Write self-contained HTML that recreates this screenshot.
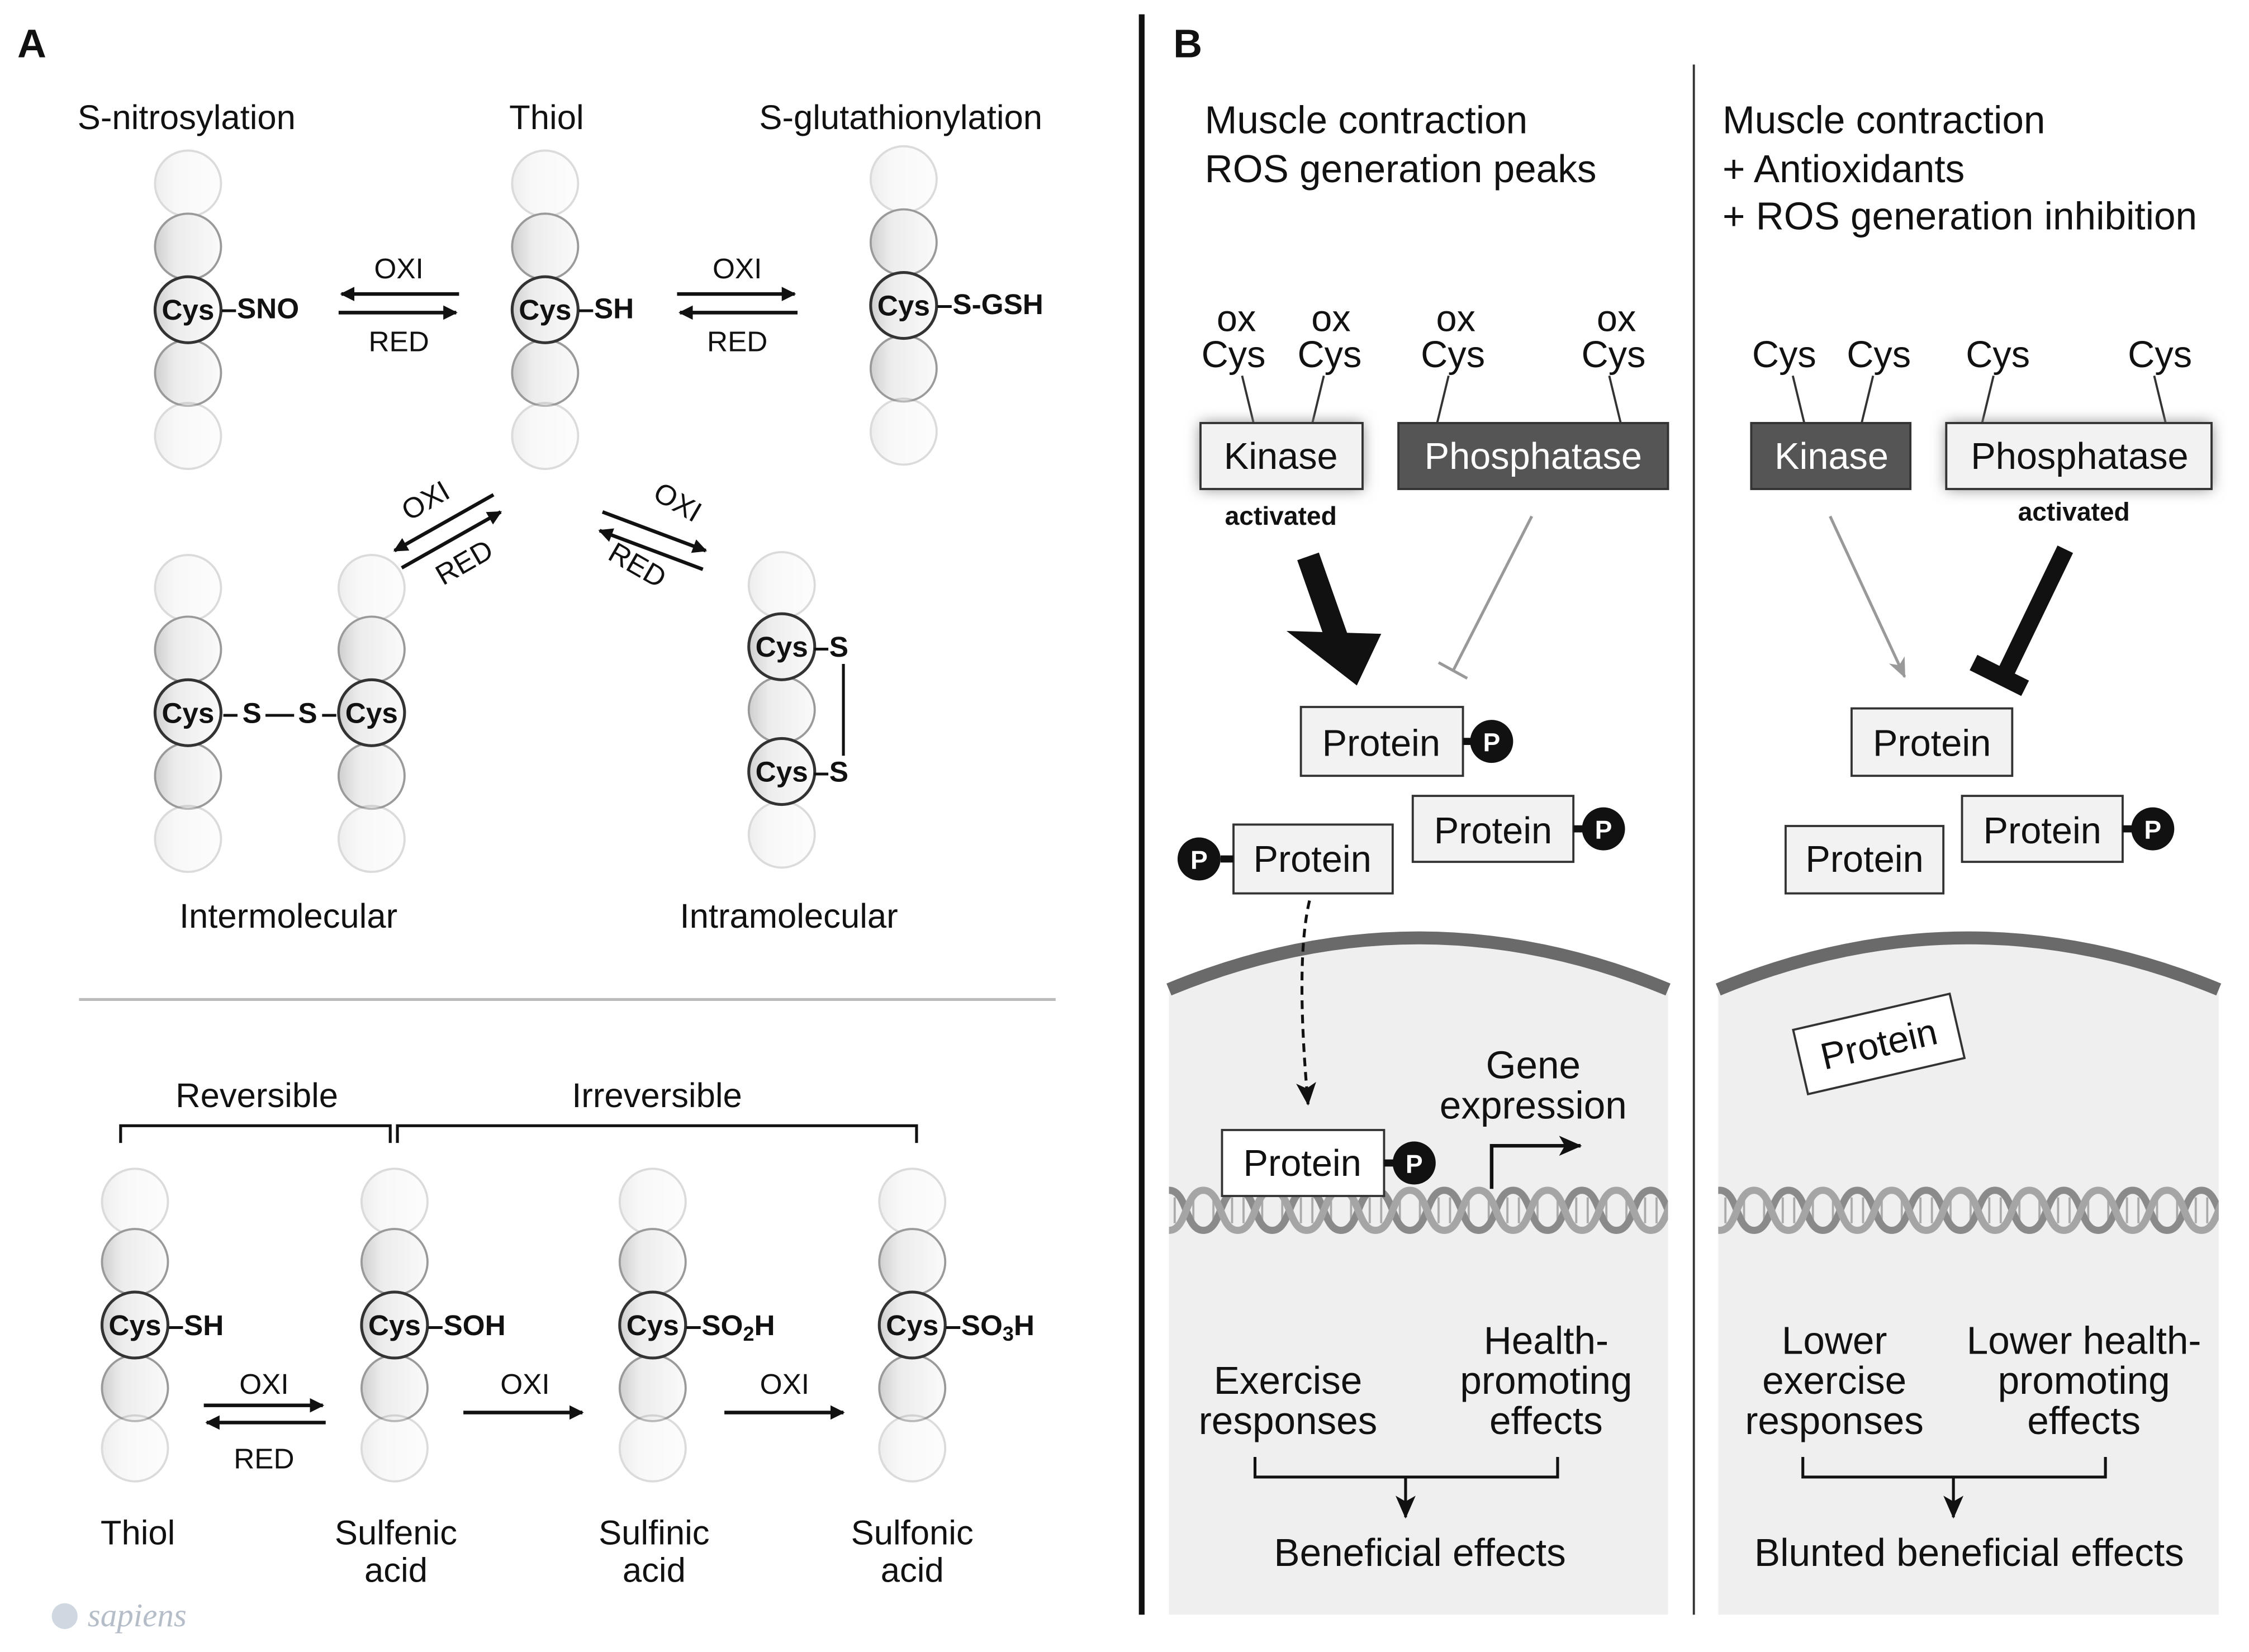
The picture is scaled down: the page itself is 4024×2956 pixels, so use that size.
<!DOCTYPE html>
<html><head><meta charset="utf-8"><style>
html,body{margin:0;padding:0;background:#fff;}
svg{display:block;}
text{font-family:"Liberation Sans",Arial,sans-serif;fill:#111;}
</style></head><body>
<svg width="4024" height="2956" viewBox="0 0 1568 1152" xmlns="http://www.w3.org/2000/svg">
<defs>
<linearGradient id="g" x1="0" x2="1" y1="0" y2="0">
<stop offset="0" stop-color="#cfcfcf"/><stop offset="0.3" stop-color="#ececec"/><stop offset="1" stop-color="#fafafa"/>
</linearGradient>
<g id="b"><circle r="23" fill="url(#g)" stroke="#9a9a9a" stroke-width="1.5"/></g>
<g id="bf" opacity="0.35"><circle r="23" fill="url(#g)" stroke="#9a9a9a" stroke-width="1.5"/></g>
<g id="bc"><circle r="23" fill="url(#g)" stroke="#333" stroke-width="2"/></g>
<marker id="ah" markerWidth="10" markerHeight="10" refX="9" refY="5" orient="auto" markerUnits="userSpaceOnUse"><path d="M0,0 L10,5 L0,10 Z" fill="#111"/></marker>
<marker id="ahb" markerWidth="16" markerHeight="14" refX="15" refY="7" orient="auto" markerUnits="userSpaceOnUse"><path d="M0,0 L16,7 L0,14 L4,7 Z" fill="#111"/></marker>
<marker id="ahg" markerWidth="14" markerHeight="12" refX="13" refY="6" orient="auto" markerUnits="userSpaceOnUse"><path d="M0,0 L14,6 L0,12 L4,6 Z" fill="#999"/></marker>
<pattern id="dna" x="815" y="825" width="48" height="38" patternUnits="userSpaceOnUse">
<g stroke="#aaa" stroke-width="1.5">
<line x1="4" y1="10" x2="4" y2="28"/><line x1="10" y1="12" x2="10" y2="26"/><line x1="38" y1="12" x2="38" y2="26"/><line x1="44" y1="10" x2="44" y2="28"/>
<line x1="17" y1="9" x2="17" y2="29"/><line x1="31" y1="9" x2="31" y2="29"/>
</g>
<path d="M0,5 C13,5 11,33 24,33 C37,33 35,5 48,5" fill="none" stroke="#8a8a8a" stroke-width="5"/>
<path d="M0,33 C13,33 11,5 24,5 C37,5 35,33 48,33" fill="none" stroke="#a5a5a5" stroke-width="5"/>
</pattern>
<filter id="glow" x="-30%" y="-50%" width="160%" height="200%"><feGaussianBlur stdDeviation="5"/></filter>
</defs>

<!-- PANEL A -->
<text x="12" y="40" font-size="28" font-weight="bold">A</text>
<g font-size="24" text-anchor="middle">
<text x="130" y="90">S-nitrosylation</text>
<text x="381" y="90">Thiol</text>
<text x="628" y="90">S-glutathionylation</text>
</g>

<use href="#bf" x="131" y="128"/><use href="#b" x="131" y="172"/><use href="#b" x="131" y="260"/><use href="#bf" x="131" y="304"/><use href="#bc" x="131" y="216"/>
<use href="#bf" x="380" y="128"/><use href="#b" x="380" y="172"/><use href="#b" x="380" y="260"/><use href="#bf" x="380" y="304"/><use href="#bc" x="380" y="216"/>
<use href="#bf" x="630" y="125"/><use href="#b" x="630" y="169"/><use href="#b" x="630" y="257"/><use href="#bf" x="630" y="301"/><use href="#bc" x="630" y="213"/>
<g font-size="20" font-weight="bold" text-anchor="middle">
<text x="131" y="223">Cys</text><text x="380" y="223">Cys</text><text x="630" y="220">Cys</text>
</g>
<g font-size="20" font-weight="bold">
<text x="154" y="222">–SNO</text><text x="403" y="222">–SH</text><text x="653" y="219">–S-GSH</text>
</g>

<g stroke="#111" stroke-width="2.5">
<line x1="320" y1="205" x2="238" y2="205" marker-end="url(#ah)"/>
<line x1="236" y1="218" x2="318" y2="218" marker-end="url(#ah)"/>
<line x1="472" y1="205" x2="554" y2="205" marker-end="url(#ah)"/>
<line x1="556" y1="218" x2="474" y2="218" marker-end="url(#ah)"/>
</g>
<g font-size="20" text-anchor="middle">
<text x="278" y="194">OXI</text><text x="278" y="245">RED</text>
<text x="514" y="194">OXI</text><text x="514" y="245">RED</text>
</g>
<g stroke="#111" stroke-width="2.5">
<line x1="344" y1="345" x2="275" y2="384" marker-end="url(#ah)"/>
<line x1="280" y1="396" x2="349" y2="357" marker-end="url(#ah)"/>
<line x1="420" y1="357" x2="492" y2="384" marker-end="url(#ah)"/>
<line x1="490" y1="397" x2="418" y2="370" marker-end="url(#ah)"/>
</g>
<g font-size="20" text-anchor="middle">
<text x="300" y="355" transform="rotate(-30 300 355)">OXI</text>
<text x="327" y="398" transform="rotate(-30 327 398)">RED</text>
<text x="469" y="356" transform="rotate(30 469 356)">OXI</text>
<text x="441" y="400" transform="rotate(30 441 400)">RED</text>
</g>

<use href="#bf" x="131" y="410"/><use href="#b" x="131" y="453"/><use href="#b" x="131" y="541"/><use href="#bf" x="131" y="585"/><use href="#bc" x="131" y="497"/>
<use href="#bf" x="259" y="410"/><use href="#b" x="259" y="453"/><use href="#b" x="259" y="541"/><use href="#bf" x="259" y="585"/><use href="#bc" x="259" y="497"/>
<use href="#bf" x="545" y="408"/><use href="#b" x="545" y="495"/><use href="#bf" x="545" y="582"/><use href="#bc" x="545" y="451"/><use href="#bc" x="545" y="538"/>
<g font-size="20" font-weight="bold" text-anchor="middle">
<text x="131" y="504">Cys</text><text x="259" y="504">Cys</text><text x="545" y="458">Cys</text><text x="545" y="545">Cys</text>
</g>
<g font-size="20" font-weight="bold">
<text x="155" y="504" textLength="80" lengthAdjust="spacing">–S—S–</text>
<text x="567" y="458">–S</text><text x="567" y="545">–S</text>
</g>
<line x1="588" y1="463" x2="588" y2="527" stroke="#111" stroke-width="2"/>
<g font-size="24" text-anchor="middle">
<text x="201" y="647">Intermolecular</text>
<text x="550" y="647">Intramolecular</text>
</g>
<line x1="55" y1="697" x2="736" y2="697" stroke="#bbb" stroke-width="2"/>

<g font-size="24" text-anchor="middle">
<text x="179" y="772">Reversible</text><text x="458" y="772">Irreversible</text>
</g>
<g fill="none" stroke="#111" stroke-width="2">
<path d="M84,797 V785 H272 V797"/>
<path d="M277,797 V785 H639 V797"/>
</g>
<use href="#bf" x="94" y="838"/><use href="#b" x="94" y="880"/><use href="#b" x="94" y="968"/><use href="#bf" x="94" y="1010"/><use href="#bc" x="94" y="924"/>
<use href="#bf" x="275" y="838"/><use href="#b" x="275" y="880"/><use href="#b" x="275" y="968"/><use href="#bf" x="275" y="1010"/><use href="#bc" x="275" y="924"/>
<use href="#bf" x="455" y="838"/><use href="#b" x="455" y="880"/><use href="#b" x="455" y="968"/><use href="#bf" x="455" y="1010"/><use href="#bc" x="455" y="924"/>
<use href="#bf" x="636" y="838"/><use href="#b" x="636" y="880"/><use href="#b" x="636" y="968"/><use href="#bf" x="636" y="1010"/><use href="#bc" x="636" y="924"/>
<g font-size="20" font-weight="bold" text-anchor="middle">
<text x="94" y="931">Cys</text><text x="275" y="931">Cys</text><text x="455" y="931">Cys</text><text x="636" y="931">Cys</text>
</g>
<g font-size="20" font-weight="bold">
<text x="117" y="931">–SH</text><text x="298" y="931">–SOH</text>
<text x="478" y="931">–SO<tspan font-size="14" dy="4">2</tspan><tspan dy="-4">H</tspan></text>
<text x="659" y="931">–SO<tspan font-size="14" dy="4">3</tspan><tspan dy="-4">H</tspan></text>
</g>
<g stroke="#111" stroke-width="2.5">
<line x1="142" y1="980" x2="225" y2="980" marker-end="url(#ah)"/>
<line x1="227" y1="992" x2="144" y2="992" marker-end="url(#ah)"/>
<line x1="323" y1="985" x2="406" y2="985" marker-end="url(#ah)"/>
<line x1="505" y1="985" x2="588" y2="985" marker-end="url(#ah)"/>
</g>
<g font-size="20" text-anchor="middle">
<text x="184" y="972">OXI</text><text x="184" y="1024">RED</text>
<text x="366" y="972">OXI</text><text x="547" y="972">OXI</text>
</g>
<g font-size="24" text-anchor="middle">
<text x="96" y="1077">Thiol</text>
<text x="276" y="1077">Sulfenic</text><text x="276" y="1103">acid</text>
<text x="456" y="1077">Sulfinic</text><text x="456" y="1103">acid</text>
<text x="636" y="1077">Sulfonic</text><text x="636" y="1103">acid</text>
</g>
<circle cx="45" cy="1127" r="9" fill="#cfd8e0"/>
<text x="61" y="1134" font-size="23" font-style="italic" style="fill:#b5bec8;font-family:'Liberation Serif',serif">sapiens</text>

<line x1="796" y1="10" x2="796" y2="1126" stroke="#111" stroke-width="4"/>
<line x1="1181" y1="45" x2="1181" y2="1126" stroke="#333" stroke-width="1.5"/>

<!-- PANEL B -->
<text x="818" y="40" font-size="28" font-weight="bold">B</text>
<g font-size="27">
<text x="840" y="93">Muscle contraction</text>
<text x="840" y="127">ROS generation peaks</text>
<text x="1201" y="93">Muscle contraction</text>
<text x="1201" y="127">+ Antioxidants</text>
<text x="1201" y="160">+ ROS generation inhibition</text>
</g>
<path d="M815,690 Q989,618 1163,690 V1126 H815 Z" fill="#efefef"/>
<path d="M815,690 Q989,618 1163,690" fill="none" stroke="#6a6a6a" stroke-width="9"/>
<path d="M1198,690 Q1372,618 1547,690 V1126 H1198 Z" fill="#efefef"/>
<path d="M1198,690 Q1372,618 1547,690" fill="none" stroke="#6a6a6a" stroke-width="9"/>
<rect x="815" y="825" width="348" height="38" fill="url(#dna)"/>
<rect x="1198" y="825" width="349" height="38" fill="url(#dna)"/>

<g font-size="26" text-anchor="middle">
<text x="862" y="231">ox</text><text x="860" y="256">Cys</text>
<text x="928" y="231">ox</text><text x="927" y="256">Cys</text>
<text x="1015" y="231">ox</text><text x="1013" y="256">Cys</text>
<text x="1127" y="231">ox</text><text x="1125" y="256">Cys</text>
<text x="1244" y="256">Cys</text><text x="1310" y="256">Cys</text>
<text x="1393" y="256">Cys</text><text x="1506" y="256">Cys</text>
</g>
<g stroke="#333" stroke-width="1.5">
<line x1="866" y1="262" x2="874" y2="295"/><line x1="923" y1="262" x2="915" y2="295"/>
<line x1="1010" y1="262" x2="1002" y2="295"/><line x1="1122" y1="262" x2="1130" y2="295"/>
<line x1="1250" y1="262" x2="1258" y2="295"/><line x1="1306" y1="262" x2="1298" y2="295"/>
<line x1="1390" y1="262" x2="1382" y2="295"/><line x1="1502" y1="262" x2="1510" y2="295"/>
</g>
<rect x="837" y="295" width="113" height="46" fill="#888" filter="url(#glow)"/>
<rect x="837" y="295" width="113" height="46" fill="#f2f2f2" stroke="#333" stroke-width="1.5"/>
<text x="893" y="327" font-size="26" text-anchor="middle">Kinase</text>
<rect x="975" y="295" width="188" height="46" fill="#555" stroke="#333" stroke-width="1.5"/>
<text x="1069" y="327" font-size="26" text-anchor="middle" style="fill:#fff">Phosphatase</text>
<text x="893" y="366" font-size="18" font-weight="bold" text-anchor="middle">activated</text>
<line x1="912" y1="388" x2="938" y2="462" stroke="#111" stroke-width="16"/>
<path d="M897,440 L963,442 L946,478 Z" fill="#111"/>
<line x1="1068" y1="360" x2="1013" y2="468" stroke="#999" stroke-width="2"/>
<line x1="1003" y1="462" x2="1023" y2="473" stroke="#999" stroke-width="2"/>

<rect x="907" y="493" width="113" height="48" fill="#f2f2f2" stroke="#333" stroke-width="1.5"/>
<text x="963" y="527" font-size="26" text-anchor="middle">Protein</text>
<line x1="1020" y1="517" x2="1028" y2="517" stroke="#111" stroke-width="5"/>
<circle cx="1040" cy="517" r="15" fill="#111"/><text x="1040" y="524" font-size="18" font-weight="bold" text-anchor="middle" style="fill:#fff">P</text>
<rect x="985" y="555" width="112" height="46" fill="#f2f2f2" stroke="#333" stroke-width="1.5"/>
<text x="1041" y="588" font-size="26" text-anchor="middle">Protein</text>
<line x1="1097" y1="578" x2="1106" y2="578" stroke="#111" stroke-width="5"/>
<circle cx="1118" cy="578" r="15" fill="#111"/><text x="1118" y="585" font-size="18" font-weight="bold" text-anchor="middle" style="fill:#fff">P</text>
<rect x="860" y="575" width="111" height="48" fill="#f2f2f2" stroke="#333" stroke-width="1.5"/>
<text x="915" y="608" font-size="26" text-anchor="middle">Protein</text>
<line x1="851" y1="599" x2="860" y2="599" stroke="#111" stroke-width="5"/>
<circle cx="836" cy="599" r="15" fill="#111"/><text x="836" y="606" font-size="18" font-weight="bold" text-anchor="middle" style="fill:#fff">P</text>
<path d="M913,628 Q903,670 912,770" fill="none" stroke="#111" stroke-width="2" stroke-dasharray="6,4" marker-end="url(#ahb)"/>
<rect x="852" y="788" width="113" height="46" fill="#fff" stroke="#333" stroke-width="1.5"/>
<text x="908" y="820" font-size="26" text-anchor="middle">Protein</text>
<line x1="965" y1="811" x2="974" y2="811" stroke="#111" stroke-width="5"/>
<circle cx="986" cy="811" r="15" fill="#111"/><text x="986" y="818" font-size="18" font-weight="bold" text-anchor="middle" style="fill:#fff">P</text>
<text x="1069" y="752" font-size="27" text-anchor="middle">Gene</text>
<text x="1069" y="780" font-size="27" text-anchor="middle">expression</text>
<path d="M1040,829 V799 H1102" fill="none" stroke="#111" stroke-width="2.5" marker-end="url(#ahb)"/>
<g font-size="27" text-anchor="middle">
<text x="898" y="972">Exercise</text><text x="898" y="1000">responses</text>
<text x="1078" y="944">Health-</text><text x="1078" y="972">promoting</text><text x="1078" y="1000">effects</text>
<text x="990" y="1092">Beneficial effects</text>
</g>
<path d="M875,1016 V1030 H1086 V1016" fill="none" stroke="#111" stroke-width="2"/>
<line x1="980" y1="1030" x2="980" y2="1058" stroke="#111" stroke-width="2" marker-end="url(#ahb)"/>

<rect x="1221" y="295" width="111" height="46" fill="#555" stroke="#333" stroke-width="1.5"/>
<text x="1277" y="327" font-size="26" text-anchor="middle" style="fill:#fff">Kinase</text>
<rect x="1357" y="295" width="185" height="46" fill="#888" filter="url(#glow)"/>
<rect x="1357" y="295" width="185" height="46" fill="#f2f2f2" stroke="#333" stroke-width="1.5"/>
<text x="1450" y="327" font-size="26" text-anchor="middle">Phosphatase</text>
<text x="1446" y="363" font-size="18" font-weight="bold" text-anchor="middle">activated</text>
<line x1="1276" y1="360" x2="1328" y2="472" stroke="#999" stroke-width="2" marker-end="url(#ahg)"/>
<line x1="1440" y1="383" x2="1398" y2="470" stroke="#111" stroke-width="12"/>
<line x1="1376" y1="462" x2="1412" y2="480" stroke="#111" stroke-width="12"/>
<rect x="1291" y="494" width="112" height="47" fill="#f2f2f2" stroke="#333" stroke-width="1.5"/>
<text x="1347" y="527" font-size="26" text-anchor="middle">Protein</text>
<rect x="1245" y="576" width="110" height="47" fill="#f2f2f2" stroke="#333" stroke-width="1.5"/>
<text x="1300" y="608" font-size="26" text-anchor="middle">Protein</text>
<rect x="1368" y="555" width="112" height="46" fill="#f2f2f2" stroke="#333" stroke-width="1.5"/>
<text x="1424" y="588" font-size="26" text-anchor="middle">Protein</text>
<line x1="1480" y1="578" x2="1489" y2="578" stroke="#111" stroke-width="5"/>
<circle cx="1501" cy="578" r="15" fill="#111"/><text x="1501" y="585" font-size="18" font-weight="bold" text-anchor="middle" style="fill:#fff">P</text>
<g transform="rotate(-13 1310 728)">
<rect x="1254" y="705" width="112" height="46" fill="#fff" stroke="#333" stroke-width="1.5"/>
<text x="1310" y="737" font-size="26" text-anchor="middle">Protein</text>
</g>
<g font-size="27" text-anchor="middle">
<text x="1279" y="944">Lower</text><text x="1279" y="972">exercise</text><text x="1279" y="1000">responses</text>
<text x="1453" y="944">Lower health-</text><text x="1453" y="972">promoting</text><text x="1453" y="1000">effects</text>
<text x="1373" y="1092">Blunted beneficial effects</text>
</g>
<path d="M1257,1016 V1030 H1468 V1016" fill="none" stroke="#111" stroke-width="2"/>
<line x1="1362" y1="1030" x2="1362" y2="1058" stroke="#111" stroke-width="2" marker-end="url(#ahb)"/>
</svg>
</body></html>
